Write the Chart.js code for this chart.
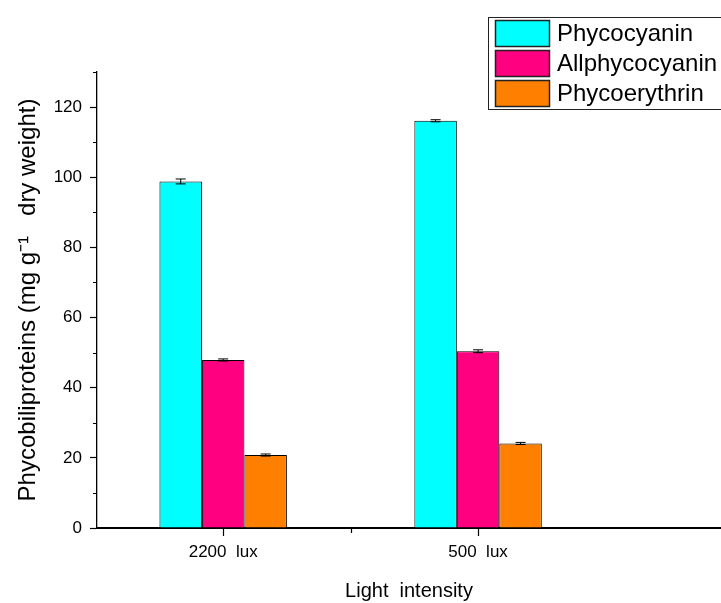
<!DOCTYPE html>
<html>
<head>
<meta charset="utf-8">
<script src="https://cdn.jsdelivr.net/npm/chart.js@4"></script>
<style>
    html, body { margin: 0; padding: 0; background: #fff; }
    #wrap { width: 721px; height: 603px; }
</style>
</head>
<body>
<div id="wrap"><canvas id="myChart"></canvas></div>
<script>
// data
const lightLabels = ['2200  lux', '500  lux'];
const seriesNames = ['Phycocyanin', 'Allphycocyanin', 'Phycoerythrin'];
const phycocyanin = [98.8, 116.1];
const allphycocyanin = [47.9, 50.4];
const phycoerythrin = [20.8, 24.1];
const phycocyaninErr = [0.7, 0.3];
const allphycocyaninErr = [0.3, 0.4];
const phycoerythrinErr = [0.3, 0.3];
const yTicks = [0, 20, 40, 60, 80, 100, 120];
const yMinorTicks = [10, 30, 50, 70, 90, 110, 130];
const xMinorTicks = [1.5];

const FONT = "'Liberation Sans', Arial, sans-serif";
const colors = ['#00FFFF', '#FF0080', '#FF8000'];

function toPoints(values) {
    return values.map((v, i) => ({ x: i + 1, y: v }));
}

const seriesValues = [phycocyanin, allphycocyanin, phycoerythrin];
const seriesErrors = [phycocyaninErr, allphycocyaninErr, phycoerythrinErr];

const datasets = seriesNames.map((name, i) => ({
    label: name,
    data: toPoints(seriesValues[i]),
    errors: seriesErrors[i],
    backgroundColor: colors[i],
    borderColor: '#000',
    borderWidth: 1,
    categoryPercentage: 0.5,
    barPercentage: 1.0,
}));

// error bars on top of each bar
const errorBars = {
    id: 'errorBars',
    afterDatasetsDraw(chart) {
        const ctx = chart.ctx;
        const y = chart.scales.y;
        ctx.save();
        ctx.strokeStyle = '#000';
        ctx.lineWidth = 1;
        chart.data.datasets.forEach((ds, di) => {
            const meta = chart.getDatasetMeta(di);
            meta.data.forEach((bar, i) => {
                const v = ds.data[i].y;
                const e = ds.errors[i];
                const top = y.getPixelForValue(v + e);
                const bot = y.getPixelForValue(v - e);
                ctx.beginPath();
                ctx.moveTo(bar.x, top);
                ctx.lineTo(bar.x, bot);
                ctx.moveTo(bar.x - 5, top);
                ctx.lineTo(bar.x + 5, top);
                ctx.moveTo(bar.x - 5, bot);
                ctx.lineTo(bar.x + 5, bot);
                ctx.stroke();
            });
        });
        ctx.restore();
    }
};

// short minor ticks on both axes
const minorTicks = {
    id: 'minorTicks',
    afterDraw(chart) {
        const ctx = chart.ctx;
        const { x, y } = chart.scales;
        const area = chart.chartArea;
        ctx.save();
        ctx.strokeStyle = '#000';
        ctx.lineWidth = 1.2;
        ctx.beginPath();
        yMinorTicks.forEach(v => {
            const py = Math.round(y.getPixelForValue(v)) + 0.5;
            ctx.moveTo(area.left - 4, py);
            ctx.lineTo(area.left, py);
        });
        xMinorTicks.forEach(v => {
            const px = Math.round(x.getPixelForValue(v)) + 0.5;
            ctx.moveTo(px, area.bottom);
            ctx.lineTo(px, area.bottom + 5);
        });
        ctx.stroke();
        ctx.restore();
    }
};

// boxed legend in the top right corner
const boxLegend = {
    id: 'boxLegend',
    afterDraw(chart) {
        const ctx = chart.ctx;
        ctx.save();
        ctx.fillStyle = '#fff';
        ctx.fillRect(488, 17, 300, 92);
        ctx.strokeStyle = '#222';
        ctx.lineWidth = 1;
        ctx.strokeRect(488.5, 17.5, 300, 92);
        ctx.font = '24px ' + FONT;
        ctx.textBaseline = 'middle';
        chart.data.datasets.forEach((ds, i) => {
            const top = 20 + i * 30;
            ctx.fillStyle = ds.backgroundColor;
            ctx.fillRect(495, top, 54, 26);
            ctx.strokeStyle = '#222';
            ctx.lineWidth = 1.5;
            ctx.strokeRect(495.5, top + 0.5, 54, 26);
            ctx.fillStyle = '#000';
            ctx.fillText(ds.label, 557, top + 14);
        });
        ctx.restore();
    }
};

const ctx = document.getElementById('myChart').getContext('2d');
const chart = new Chart(ctx, {
    type: 'bar',
    data: { datasets: datasets },
    options: {
        responsive: true,
        maintainAspectRatio: false,
        animation: false,
        layout: { padding: { top: 72, right: 0, left: 0, bottom: 0 } },
        plugins: {
            legend: { display: false },
            tooltip: { enabled: false },
        },
        scales: {
            x: {
                type: 'linear',
                offset: false,
                min: 0.505,
                max: 2.953,
                afterBuildTicks: scale => {
                    scale.ticks = lightLabels.map((_, i) => ({ value: i + 1 }));
                },
                afterFit: scale => { scale.height = 75; },
                ticks: {
                    callback: v => lightLabels[v - 1],
                    color: '#000',
                    font: { family: FONT, size: 17 },
                    padding: 6,
                    maxRotation: 0,
                },
                grid: {
                    offset: false,
                    drawOnChartArea: false,
                    drawTicks: true,
                    tickLength: 8,
                    tickWidth: 1.2,
                    tickColor: '#000',
                },
                border: { display: true, color: '#000', width: 2 },
                title: {
                    display: true,
                    text: 'Light  intensity',
                    color: '#000',
                    font: { family: FONT, size: 20 },
                    padding: { top: 3, bottom: 0 },
                },
            },
            y: {
                min: 0,
                max: 130,
                afterBuildTicks: scale => {
                    scale.ticks = yTicks.map(v => ({ value: v }));
                },
                afterFit: scale => { scale.width = 97; },
                ticks: {
                    color: '#000',
                    font: { family: FONT, size: 17 },
                    padding: 8,
                },
                grid: {
                    drawOnChartArea: false,
                    drawTicks: true,
                    tickLength: 7,
                    tickWidth: 1.2,
                    tickColor: '#000',
                },
                border: { display: true, color: '#000', width: 1.3 },
                title: {
                    display: true,
                    text: 'Phycobiliproteins (mg g\u207B\u00B9   dry weight)',
                    color: '#000',
                    font: { family: FONT, size: 24 },
                    padding: { top: 14, bottom: 0 },
                },
            },
        },
    },
    plugins: [errorBars, minorTicks, boxLegend],
});
</script>
</body>
</html>
